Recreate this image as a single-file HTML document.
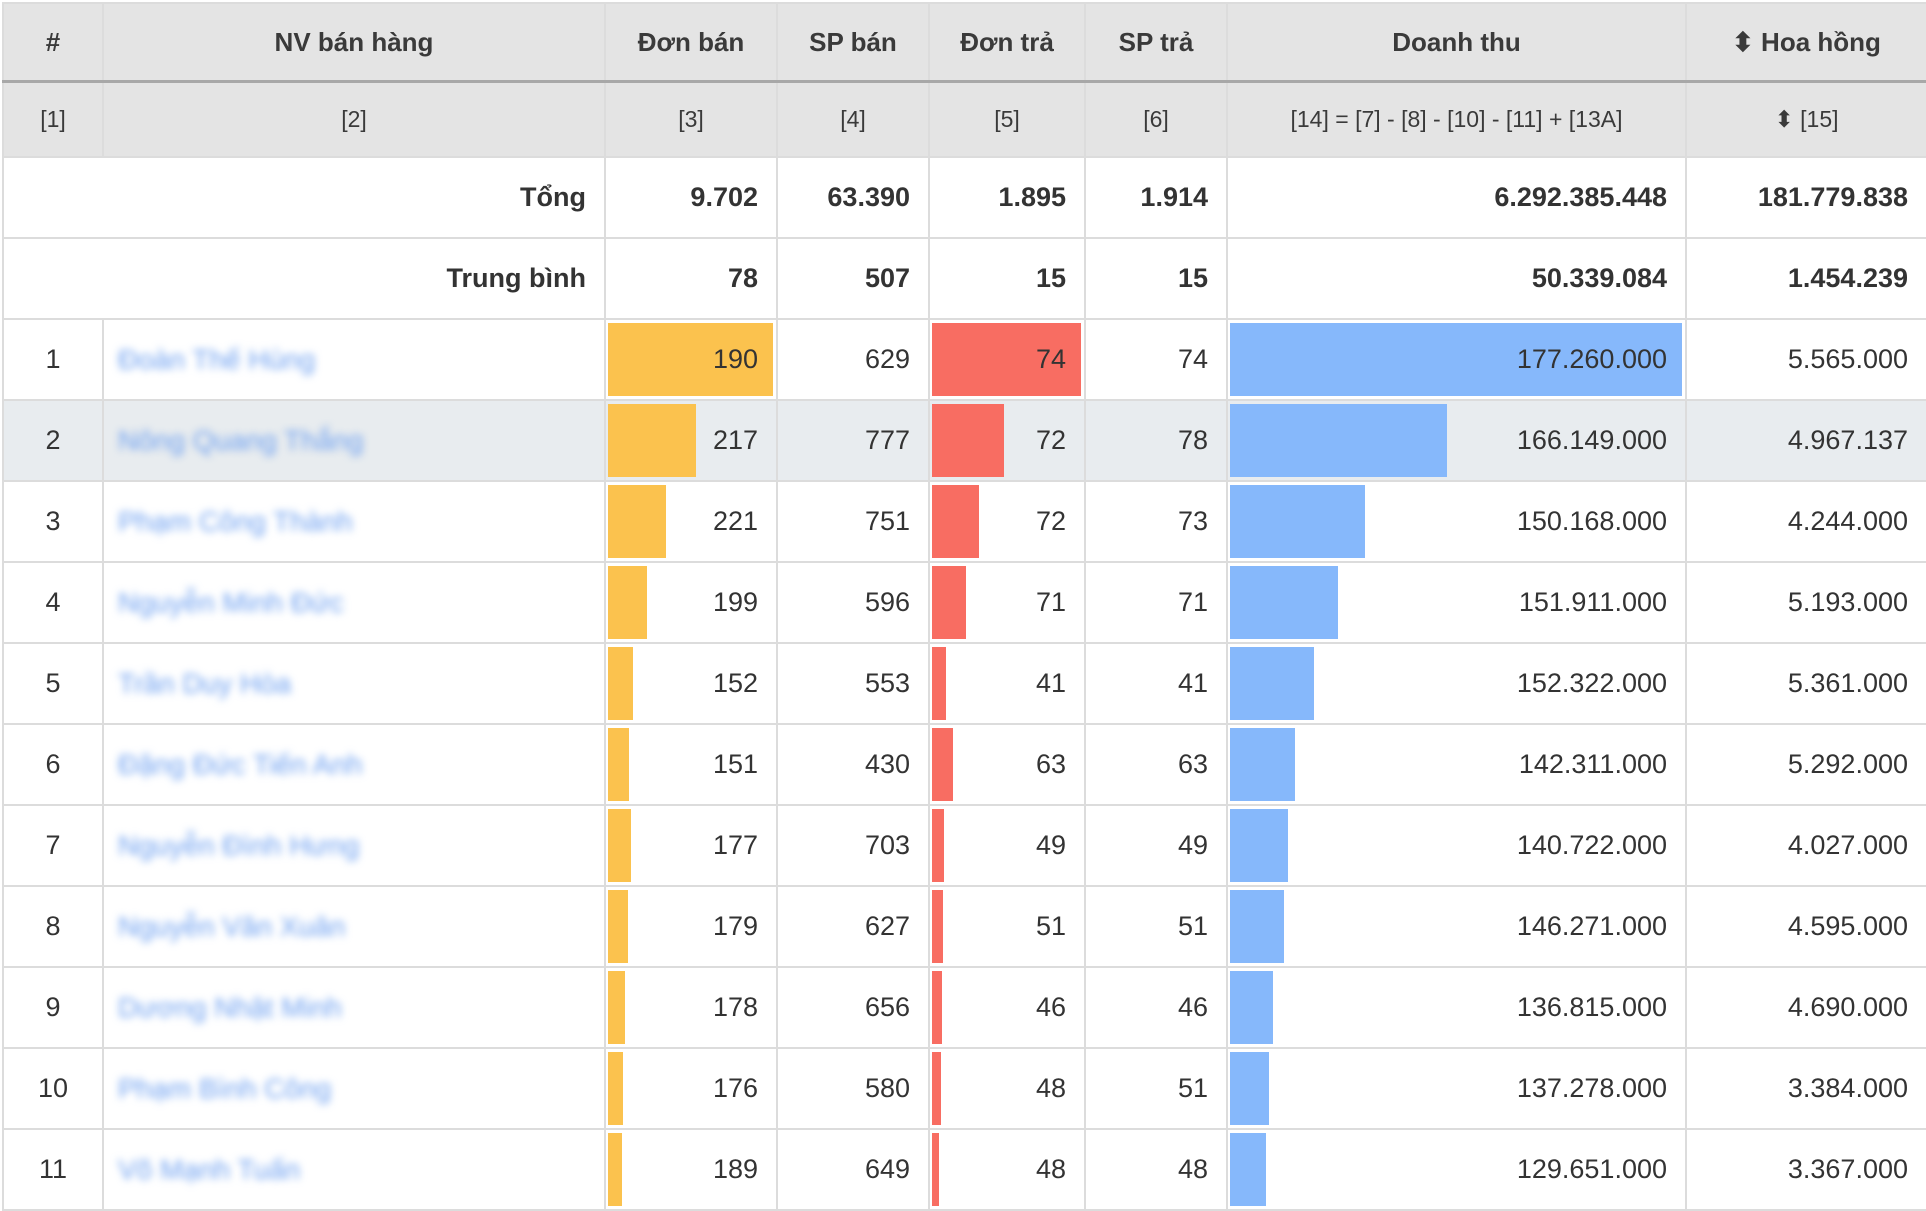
<!DOCTYPE html>
<html><head><meta charset="utf-8"><style>
body{margin:0;width:1926px;height:1204px;overflow:hidden;background:#fff;font-family:"Liberation Sans",sans-serif;color:#333}
table{border-collapse:collapse;table-layout:fixed;position:absolute;left:2px;top:2px;width:1924px}
td,th{border:2px solid #dcdcdc;padding:0;position:relative;font-size:26px}
th{background:#e4e4e4;font-weight:bold;color:#3a3a3a;height:76px}
tr.sub th{height:73px;font-weight:normal;font-size:23px;border-top:3px solid #a8a8a8}
tr.sum td{height:79px;font-weight:bold;text-align:right;padding-right:18px;font-size:27px}
tr.r td{height:79px;font-size:27px;text-align:right;padding-right:18px}
tr.r td.n{text-align:center;padding:0}
tr.r td.nm{text-align:left;padding-left:14px}
tr.g td{background:#e8ecef}
.b{position:absolute;left:2px;top:3px;bottom:3px}
.y{background:#fbc24e}.rd{background:#f86d62}.bl{background:#86b8fb}
td span{position:relative}
.blur{color:#6c9ff0;filter:blur(4px);font-size:28px}
</style></head><body>
<table>
<colgroup><col style="width:100px"><col style="width:502px"><col style="width:172px"><col style="width:152px"><col style="width:156px"><col style="width:142px"><col style="width:459px"><col style="width:241px"></colgroup>
<tr><th>#</th><th>NV bán hàng</th><th>Đơn bán</th><th>SP bán</th><th>Đơn trả</th><th>SP trả</th><th>Doanh thu</th><th>⬍ Hoa hồng</th></tr>
<tr class="sub"><th>[1]</th><th>[2]</th><th>[3]</th><th>[4]</th><th>[5]</th><th>[6]</th><th>[14] = [7] - [8] - [10] - [11] + [13A]</th><th>⬍ [15]</th></tr>
<tr class="sum"><td colspan="2">Tổng</td><td>9.702</td><td>63.390</td><td>1.895</td><td>1.914</td><td>6.292.385.448</td><td>181.779.838</td></tr>
<tr class="sum"><td colspan="2">Trung bình</td><td>78</td><td>507</td><td>15</td><td>15</td><td>50.339.084</td><td>1.454.239</td></tr>
<tr class="r"><td class="n">1</td><td class="nm"><span class="blur">Đoàn Thế Hùng</span></td><td><div class="b y" style="width:165px"></div><span>190</span></td><td>629</td><td><div class="b rd" style="width:149px"></div><span>74</span></td><td>74</td><td><div class="b bl" style="width:452px"></div><span>177.260.000</span></td><td>5.565.000</td></tr>
<tr class="r g"><td class="n">2</td><td class="nm"><span class="blur">Nông Quang Thắng</span></td><td><div class="b y" style="width:88px"></div><span>217</span></td><td>777</td><td><div class="b rd" style="width:72px"></div><span>72</span></td><td>78</td><td><div class="b bl" style="width:217px"></div><span>166.149.000</span></td><td>4.967.137</td></tr>
<tr class="r"><td class="n">3</td><td class="nm"><span class="blur">Phạm Công Thành</span></td><td><div class="b y" style="width:58px"></div><span>221</span></td><td>751</td><td><div class="b rd" style="width:47px"></div><span>72</span></td><td>73</td><td><div class="b bl" style="width:135px"></div><span>150.168.000</span></td><td>4.244.000</td></tr>
<tr class="r"><td class="n">4</td><td class="nm"><span class="blur">Nguyễn Minh Đức</span></td><td><div class="b y" style="width:39px"></div><span>199</span></td><td>596</td><td><div class="b rd" style="width:34px"></div><span>71</span></td><td>71</td><td><div class="b bl" style="width:108px"></div><span>151.911.000</span></td><td>5.193.000</td></tr>
<tr class="r"><td class="n">5</td><td class="nm"><span class="blur">Trần Duy Hòa</span></td><td><div class="b y" style="width:25px"></div><span>152</span></td><td>553</td><td><div class="b rd" style="width:14px"></div><span>41</span></td><td>41</td><td><div class="b bl" style="width:84px"></div><span>152.322.000</span></td><td>5.361.000</td></tr>
<tr class="r"><td class="n">6</td><td class="nm"><span class="blur">Đặng Đức Tiến Anh</span></td><td><div class="b y" style="width:21px"></div><span>151</span></td><td>430</td><td><div class="b rd" style="width:21px"></div><span>63</span></td><td>63</td><td><div class="b bl" style="width:65px"></div><span>142.311.000</span></td><td>5.292.000</td></tr>
<tr class="r"><td class="n">7</td><td class="nm"><span class="blur">Nguyễn Đình Hưng</span></td><td><div class="b y" style="width:23px"></div><span>177</span></td><td>703</td><td><div class="b rd" style="width:12px"></div><span>49</span></td><td>49</td><td><div class="b bl" style="width:58px"></div><span>140.722.000</span></td><td>4.027.000</td></tr>
<tr class="r"><td class="n">8</td><td class="nm"><span class="blur">Nguyễn Văn Xuân</span></td><td><div class="b y" style="width:20px"></div><span>179</span></td><td>627</td><td><div class="b rd" style="width:11px"></div><span>51</span></td><td>51</td><td><div class="b bl" style="width:54px"></div><span>146.271.000</span></td><td>4.595.000</td></tr>
<tr class="r"><td class="n">9</td><td class="nm"><span class="blur">Dương Nhật Minh</span></td><td><div class="b y" style="width:17px"></div><span>178</span></td><td>656</td><td><div class="b rd" style="width:10px"></div><span>46</span></td><td>46</td><td><div class="b bl" style="width:43px"></div><span>136.815.000</span></td><td>4.690.000</td></tr>
<tr class="r"><td class="n">10</td><td class="nm"><span class="blur">Phạm Bình Công</span></td><td><div class="b y" style="width:15px"></div><span>176</span></td><td>580</td><td><div class="b rd" style="width:9px"></div><span>48</span></td><td>51</td><td><div class="b bl" style="width:39px"></div><span>137.278.000</span></td><td>3.384.000</td></tr>
<tr class="r"><td class="n">11</td><td class="nm"><span class="blur">Võ Mạnh Tuấn</span></td><td><div class="b y" style="width:14px"></div><span>189</span></td><td>649</td><td><div class="b rd" style="width:7px"></div><span>48</span></td><td>48</td><td><div class="b bl" style="width:36px"></div><span>129.651.000</span></td><td>3.367.000</td></tr>
</table>
</body></html>
